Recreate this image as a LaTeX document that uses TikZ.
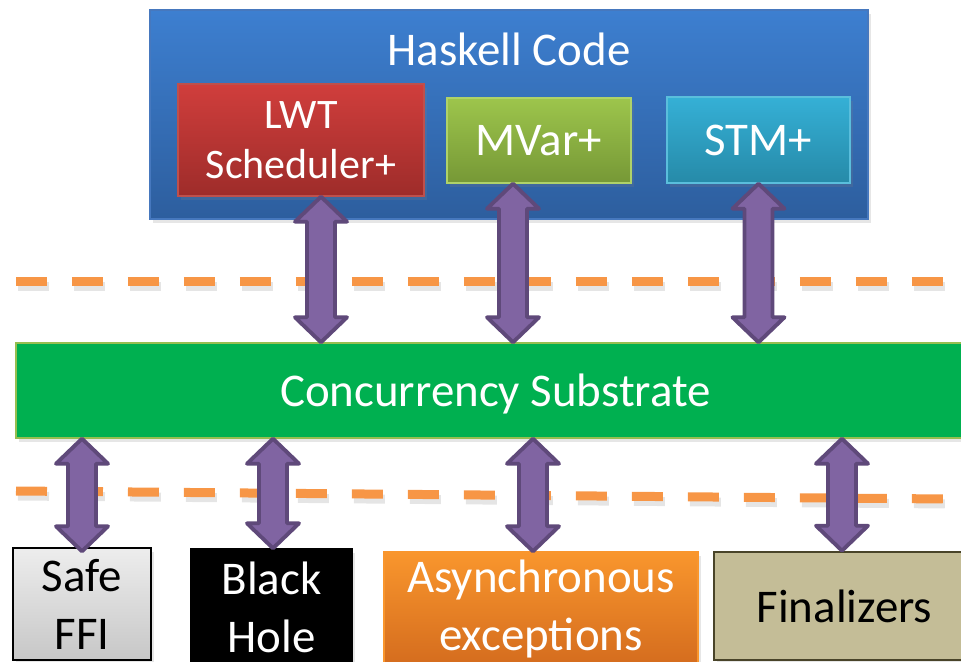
\documentclass[tikz,border=0pt]{standalone}
\usepackage{fontspec}
\setmainfont{Carlito}
\usepackage{xcolor}
\usetikzlibrary{positioning,calc,shadows}
\definecolor{haskA}{RGB}{61,127,208}
\definecolor{haskB}{RGB}{45,94,158}
\definecolor{haskD}{RGB}{70,120,190}
\definecolor{lwtA}{RGB}{208,62,60}
\definecolor{lwtB}{RGB}{158,44,42}
\definecolor{lwtD}{RGB}{190,80,76}
\definecolor{mvarA}{RGB}{157,197,76}
\definecolor{mvarB}{RGB}{118,152,54}
\definecolor{mvarD}{RGB}{175,210,105}
\definecolor{stmA}{RGB}{53,176,214}
\definecolor{stmB}{RGB}{38,138,168}
\definecolor{stmD}{RGB}{90,190,220}
\definecolor{verde}{RGB}{0,176,80}
\definecolor{verdeD}{RGB}{150,190,80}
\definecolor{naranja}{RGB}{247,150,70}
\definecolor{asyA}{RGB}{249,150,45}
\definecolor{asyB}{RGB}{212,108,30}
\definecolor{finF}{RGB}{196,189,151}
\definecolor{finD}{RGB}{73,68,41}
\definecolor{lila}{RGB}{128,100,162}
\definecolor{lilaD}{RGB}{95,73,122}
\tikzset{
  bloque/.style={rectangle, draw, line width=0.8pt, inner sep=0pt,
                 align=center, text=white,
                 font=\fontsize{26.7}{33}\selectfont,
                 drop shadow={shadow xshift=1.5pt, shadow yshift=-2.5pt,
                              opacity=0.2}},
  texto/.style={inner sep=0pt, align=center, text=white,
                font=\fontsize{26.7}{33}\selectfont},
  separador/.style={draw=naranja, line width=0.18cm,
                    dash pattern=on 0.62cm off 0.5cm},
  sombrasep/.style={draw=black, opacity=0.1, line width=0.18cm,
                    dash pattern=on 0.62cm off 0.5cm},
  flechadoble/.style={fill=lila, draw=lilaD, line width=2.2pt,
                      line join=round}
}
\newcommand{\flechadoble}[2]{%
  \draw[flechadoble] (#1) -- ++(-26,25) -- ++(12,0)
    -- ($(#2)+(-14,-25)$) -- ++(-12,0) -- (#2) -- ++(26,-25)
    -- ++(-12,0) -- ($(#1)+(14,25)$) -- ++(12,0) -- cycle;}

\begin{document}
\begin{tikzpicture}[x=0.02cm, y=-0.02cm]
  \useasboundingbox (0,0) rectangle (961,662);

  % lineas de separacion
  \draw[sombrasep] (18,287) -- (947,287);
  \draw[sombrasep] (18,496) -- (947,504);
  \draw[separador] (16,282) -- (945,282);
  \draw[separador] (16,491) -- (945,499);

  % capa superior
  \node[bloque, minimum width=14.36cm, minimum height=4.18cm,
        top color=haskA, bottom color=haskB, draw=haskD] (hask) at (509,114.5) {};
  \node[texto] (haskt) at (509,49) {Haskell Code};
  \node[bloque, minimum width=4.92cm, minimum height=2.24cm,
        top color=lwtA, bottom color=lwtB, draw=lwtD,
        font=\fontsize{23.9}{28.5}\selectfont] (lwt) at (301,140) {LWT\\Scheduler+};
  \node[bloque, minimum width=3.68cm, minimum height=1.7cm,
        top color=mvarA, bottom color=mvarB, draw=mvarD] (mvar) at (539,140.5) {MVar+};
  \node[bloque, minimum width=3.66cm, minimum height=1.72cm,
        top color=stmA, bottom color=stmB, draw=stmD] (stm) at (758.5,140) {STM+};

  % sustrato
  \node[bloque, minimum width=19.18cm, minimum height=1.9cm, text depth=0pt,
        fill=verde, draw=verdeD] (sub) at (495.5,390.5) {Concurrency Substrate};

  % capa inferior
  \node[bloque, minimum width=2.76cm, minimum height=2.24cm,
        top color=black!7, bottom color=black!22, draw=black,
        text=black] (ffi) at (82,604) {Safe\\FFI};
  \node[bloque, minimum width=3.22cm, minimum height=2.32cm,
        fill=black] (hole) at (271.5,607) {Black\\Hole};
  \node[bloque, minimum width=6.28cm, minimum height=2.28cm,
        top color=asyA, bottom color=asyB, draw=asyA] (async) at (541,609) {Asynchronous\\exceptions};
  \node[bloque, minimum width=5.22cm, minimum height=2.16cm,
        fill=finF, draw=finD, line width=1.5pt, text=black] (fin) at (844.5,606) {Finalizers};

  % flechas
  \coordinate (a1t) at ([xshift=0.4cm]lwt.south);
  \coordinate (a1b) at (a1t |- sub.north);
  \coordinate (a2t) at ([xshift=-0.52cm]mvar.south);
  \coordinate (a2b) at (a2t |- sub.north);
  \coordinate (a3t) at (stm.south);
  \coordinate (a3b) at (a3t |- sub.north);
  \coordinate (a4b) at ([yshift=-0.08cm]ffi.north);
  \coordinate (a4t) at (a4b |- sub.south);
  \coordinate (a5b) at ([xshift=0.03cm]hole.north);
  \coordinate (a5t) at (a5b |- sub.south);
  \coordinate (a6b) at ([xshift=-0.16cm]async.north);
  \coordinate (a6t) at (a6b |- sub.south);
  \coordinate (a7b) at ([xshift=-0.05cm]fin.north);
  \coordinate (a7t) at (a7b |- sub.south);
  \flechadoble{a1t}{a1b} \flechadoble{a2t}{a2b} \flechadoble{a3t}{a3b}
  \flechadoble{a4t}{a4b} \flechadoble{a5t}{a5b}
  \flechadoble{a6t}{a6b} \flechadoble{a7t}{a7b}
\end{tikzpicture}
\end{document}
